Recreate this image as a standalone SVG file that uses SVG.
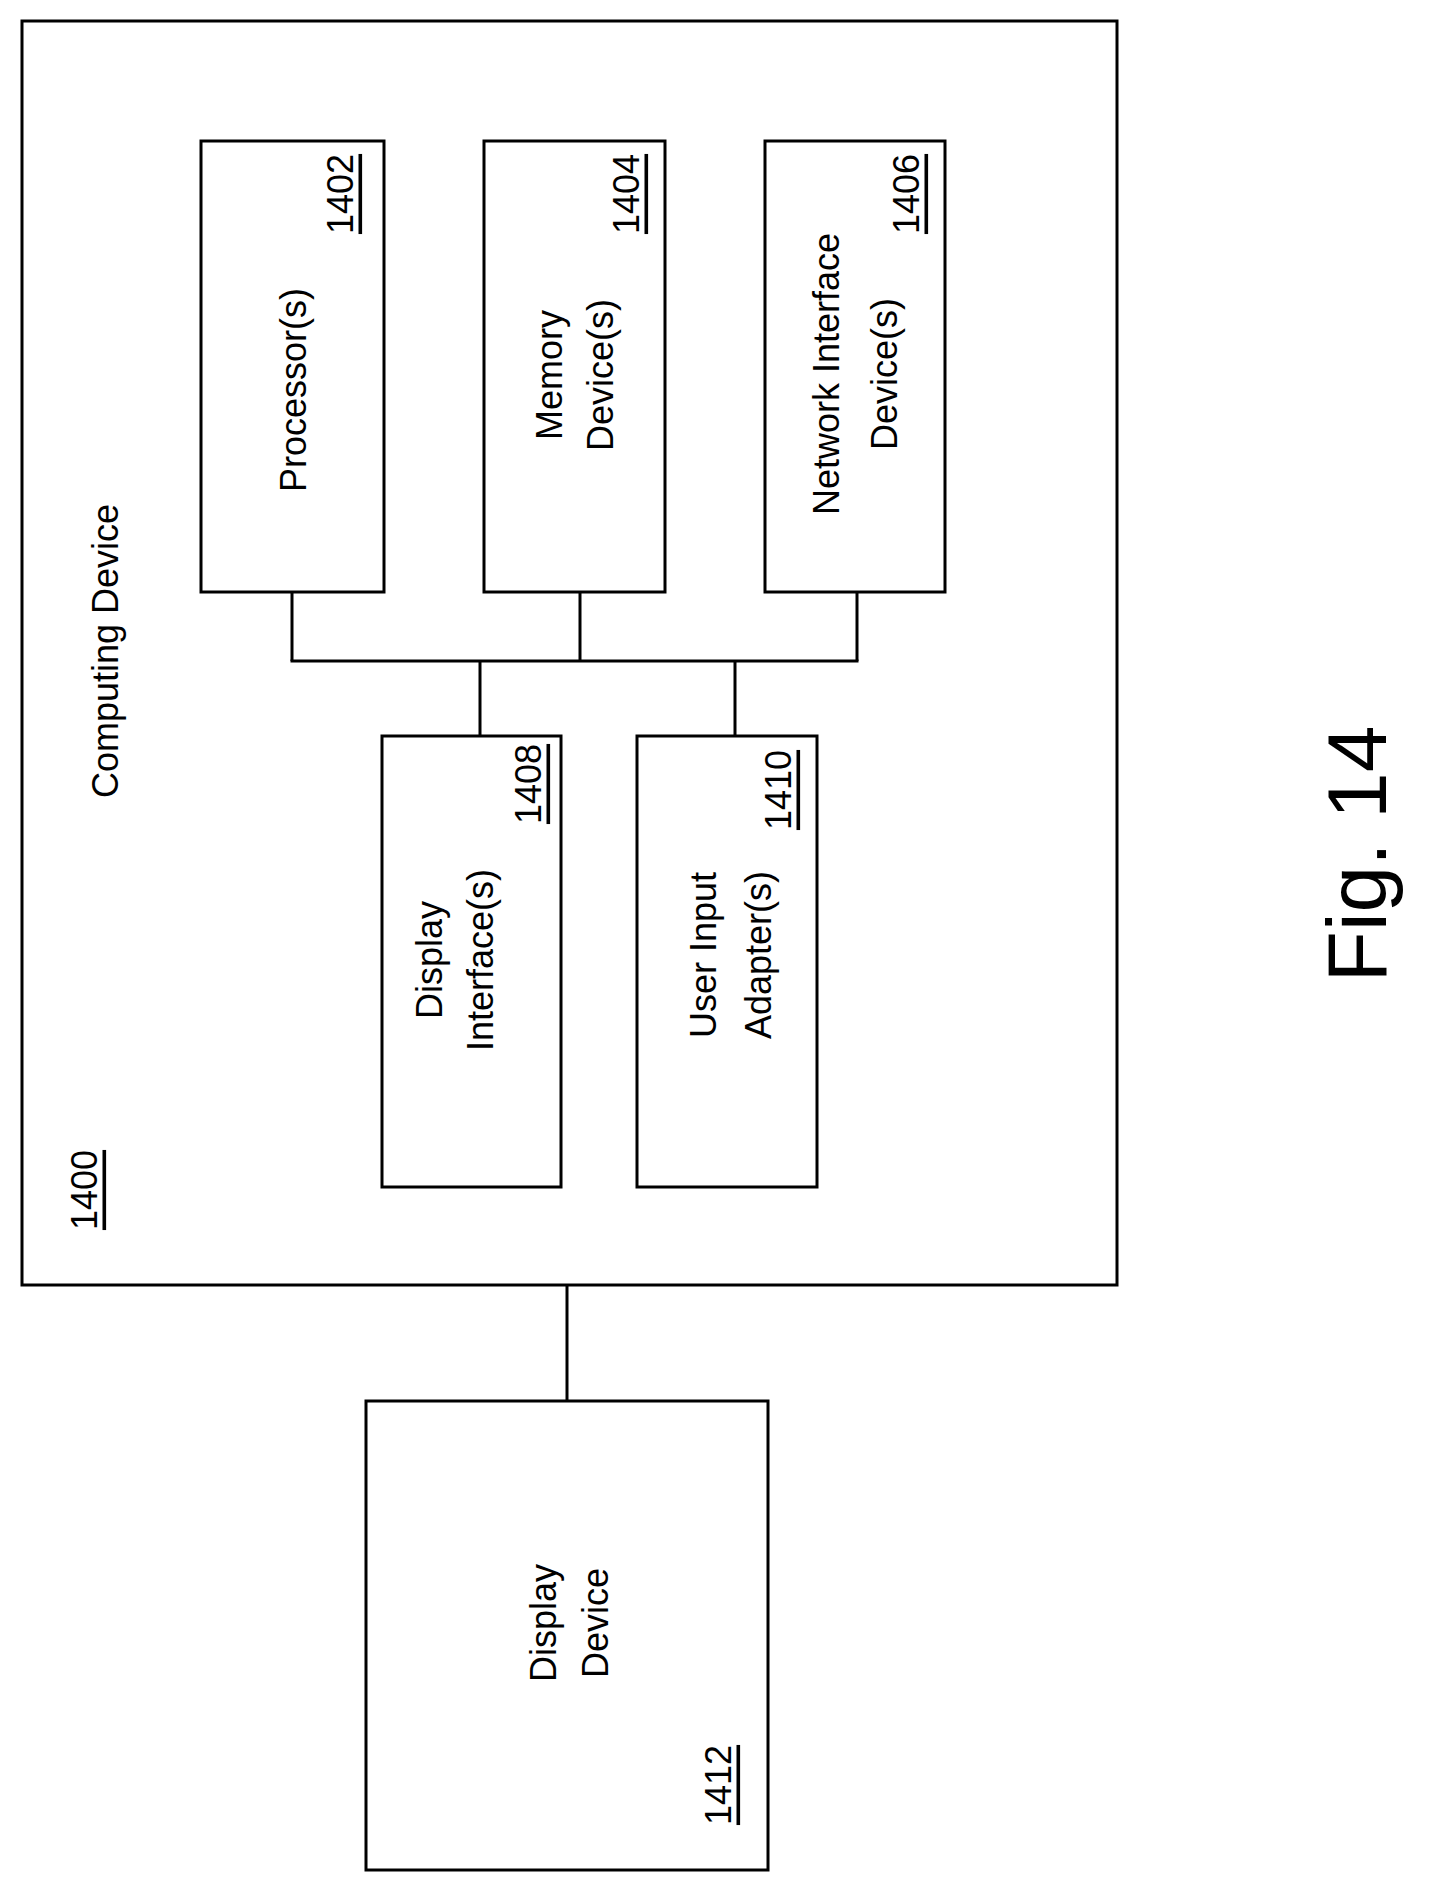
<svg xmlns="http://www.w3.org/2000/svg" width="1432" height="1900" viewBox="0 0 1432 1900">
<style>
rect{fill:none;stroke:#000;stroke-width:3}
line{stroke:#000;stroke-width:3}
text{font-family:"Liberation Sans",Arial,sans-serif;font-size:36px;text-anchor:middle;dominant-baseline:central;fill:#000}
.u{text-decoration:underline}
</style>
<rect width="1432" height="1900" style="fill:#fff;stroke:none"/>
<g id="n1400">
<rect x="22" y="21" width="1095" height="1264"/>
<text transform="translate(105,651) rotate(-90)">Computing Device</text>
<text class="u" transform="translate(84,1190) rotate(-90)">1400</text>
</g>
<g id="n1402">
<rect x="201" y="141" width="183" height="451"/>
<text transform="translate(293,390) rotate(-90)">Processor(s)</text>
<text class="u" transform="translate(340,194) rotate(-90)">1402</text>
</g>
<g id="n1404">
<rect x="484" y="141" width="181" height="451"/>
<text transform="translate(549,375) rotate(-90)">Memory</text>
<text transform="translate(600,375) rotate(-90)">Device(s)</text>
<text class="u" transform="translate(626,194) rotate(-90)">1404</text>
</g>
<g id="n1406">
<rect x="765" y="141" width="180" height="451"/>
<text transform="translate(826,374) rotate(-90)">Network Interface</text>
<text transform="translate(884,374) rotate(-90)">Device(s)</text>
<text class="u" transform="translate(906,194) rotate(-90)">1406</text>
</g>
<g id="n1408">
<rect x="382" y="736" width="179" height="451"/>
<text transform="translate(429,960) rotate(-90)">Display</text>
<text transform="translate(480,960) rotate(-90)">Interface(s)</text>
<text class="u" transform="translate(528,784) rotate(-90)">1408</text>
</g>
<g id="n1410">
<rect x="637" y="736" width="180" height="451"/>
<text transform="translate(703,955) rotate(-90)">User Input</text>
<text transform="translate(758,955) rotate(-90)">Adapter(s)</text>
<text class="u" transform="translate(778,790) rotate(-90)">1410</text>
</g>
<g id="n1412">
<rect x="366" y="1401" width="402" height="469"/>
<text transform="translate(543,1623) rotate(-90)">Display</text>
<text transform="translate(595,1623) rotate(-90)">Device</text>
<text class="u" transform="translate(718,1785) rotate(-90)">1412</text>
</g>
<g id="connectors">
<line x1="292" y1="592" x2="292" y2="661"/>
<line x1="580" y1="592" x2="580" y2="661"/>
<line x1="857" y1="592" x2="857" y2="661"/>
<line x1="290.5" y1="661" x2="858.5" y2="661"/>
<line x1="480" y1="661" x2="480" y2="736"/>
<line x1="735" y1="661" x2="735" y2="736"/>
<line x1="567" y1="1285" x2="567" y2="1401"/>
</g>
<text transform="translate(1357,854) rotate(-90)" style="font-size:84px">Fig. 14</text>
</svg>
